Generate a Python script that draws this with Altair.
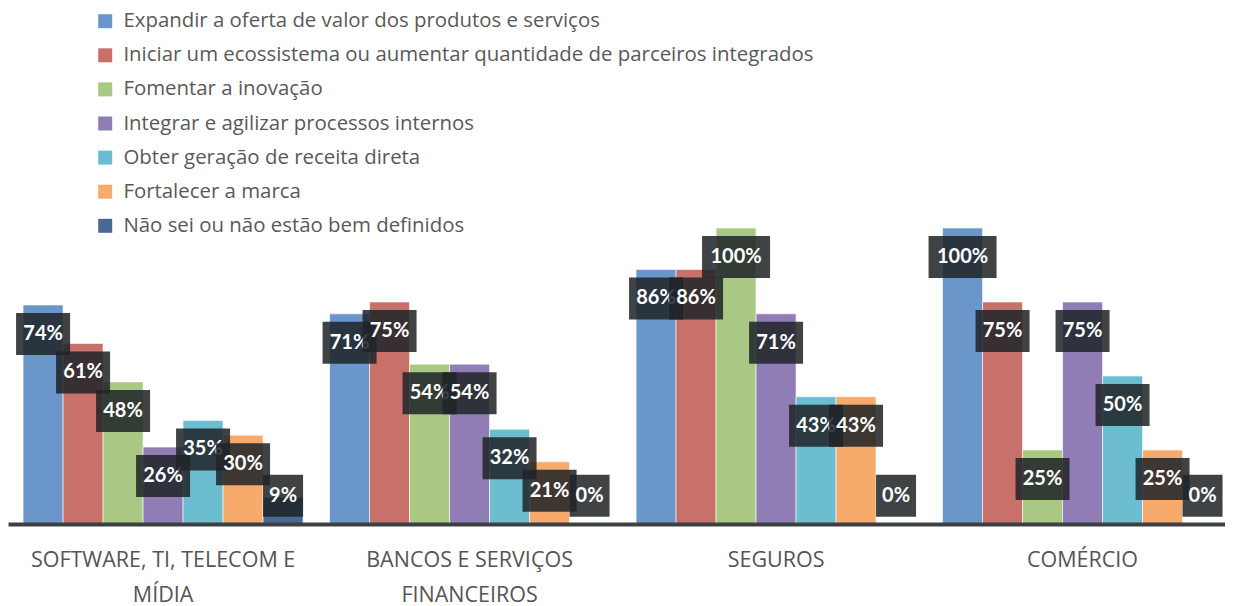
import altair as alt
import pandas as pd

FONT = "Open Sans"
LFONT = "Lato"

categories = [
    "SOFTWARE, TI, TELECOM E\nMÍDIA",
    "BANCOS E SERVIÇOS\nFINANCEIROS",
    "SEGUROS",
    "COMÉRCIO",
]
series = [
    "Expandir a oferta de valor dos produtos e serviços",
    "Iniciar um ecossistema ou aumentar quantidade de parceiros integrados",
    "Fomentar a inovação",
    "Integrar e agilizar processos internos",
    "Obter geração de receita direta",
    "Fortalecer a marca",
    "Não sei ou não estão bem definidos",
]
colors = ["#6b96c9", "#c8706a", "#a9c884", "#917db5", "#6cbdd0", "#f6aa6c", "#4a6893"]

expandir = [74, 71, 86, 100]
iniciar = [61, 75, 86, 75]
fomentar = [48, 54, 100, 25]
integrar = [26, 54, 71, 75]
obter = [35, 32, 43, 50]
fortalecer = [30, 21, 43, 25]
nao_sei = [9, 0, 0, 0]

series_values = [expandir, iniciar, fomentar, integrar, obter, fortalecer, nao_sei]

rows = []
for ci, cat in enumerate(categories):
    for si, s in enumerate(series):
        v = series_values[si][ci]
        rows.append({"category": cat, "series": s, "value": v, "label": f"{v}%"})
df = pd.DataFrame(rows)

x_enc = alt.X(
    "category:N",
    sort=categories,
    scale=alt.Scale(paddingInner=0.0865, paddingOuter=0.0286, align=0.86),
    axis=alt.Axis(
        title=None,
        labelExpr="split(datum.value, '\\n')",
        labelAngle=0,
        labelFont=FONT,
        labelFontSize=21.5,
        labelColor="#555555",
        labelLineHeight=35,
        labelPadding=36,
        labelBaseline="middle",
        labelLimit=500,
        ticks=False,
        domainColor="#3d4043",
        domainWidth=4,
        zindex=1,
    ),
)
xo_enc = alt.XOffset("series:N", sort=series, scale=alt.Scale(paddingInner=0, paddingOuter=0))
y_scale = alt.Scale(domain=[0, 100], nice=False, zero=True)

base = alt.Chart(df)

bars = base.mark_bar(stroke="white", strokeWidth=1, strokeOpacity=0.6).encode(
    x=x_enc,
    xOffset=xo_enc,
    y=alt.Y("value:Q", scale=y_scale, axis=None),
    color=alt.Color(
        "series:N",
        sort=series,
        scale=alt.Scale(domain=series, range=colors),
        legend=alt.Legend(
            title=None,
            orient="none",
            legendX=87,
            legendY=-217,
            symbolType="square",
            symbolSize=196,
            symbolStrokeWidth=0,
            labelFont=FONT,
            labelFontSize=20.4,
            labelColor="#595959",
            labelOffset=8,
            labelLimit=1000,
            rowPadding=13.1,
            padding=0,
        ),
    ),
)

layers = [bars]
box_widths = {2: 40, 3: 54, 4: 68}
for s in series:
    for n, w in box_widths.items():
        box = (
            base.transform_filter(alt.datum.series == s)
            .transform_calculate(ly="max(datum.value, 19.3)")
            .transform_filter(f"length(datum.label) == {n}")
            .mark_bar(width=w, yOffset=8, y2Offset=50, color="#202428", opacity=0.86)
            .encode(
                x=x_enc,
                xOffset=xo_enc,
                y=alt.Y("ly:Q", scale=y_scale, axis=None),
                y2="ly:Q",
            )
        )
        layers.append(box)
    txt = (
        base.transform_filter(alt.datum.series == s)
        .transform_calculate(ly="max(datum.value, 19.3)")
        .mark_text(dy=29, align="center", baseline="middle", color="white",
                   font=LFONT, fontSize=20, fontWeight="bold")
        .encode(
            x=x_enc,
            xOffset=xo_enc,
            y=alt.Y("ly:Q", scale=y_scale, axis=None),
            text="label:N",
        )
    )
    layers.append(txt)

chart = (
    alt.layer(*layers)
    .properties(
        width=1217,
        height=296,
        autosize=alt.AutoSizeParams(type="none"),
        padding={"left": 0, "top": 220, "right": 0, "bottom": 86},
    )
    .configure_view(stroke=None)
)

chart.save("out.html", embed_options={"renderer": "svg", "actions": False})
